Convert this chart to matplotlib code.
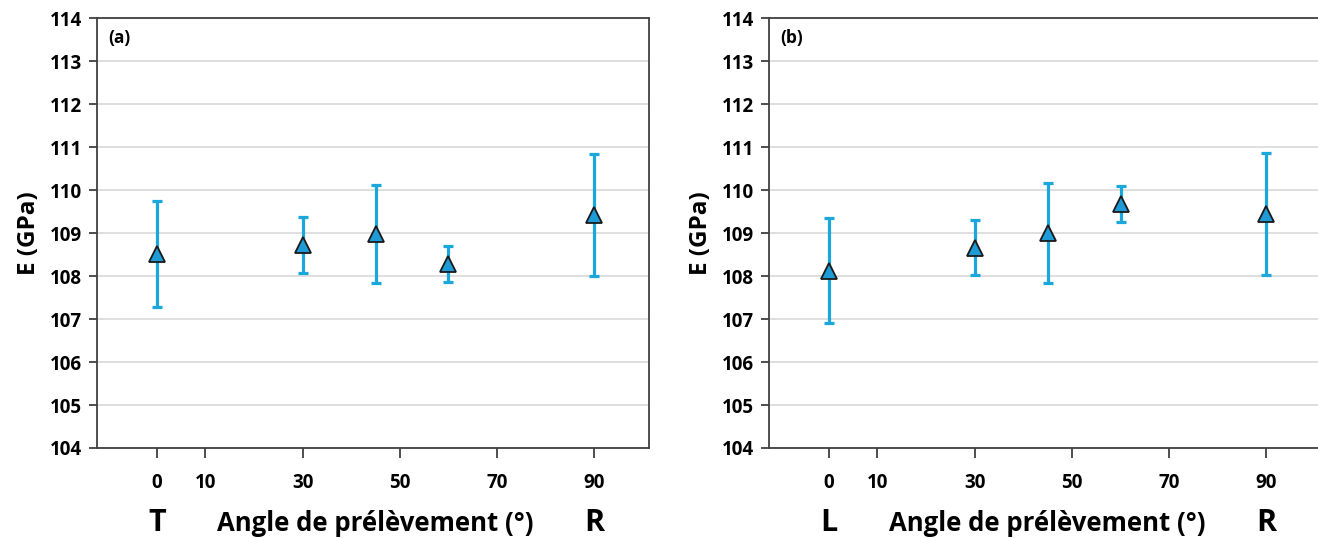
import numpy as np
import matplotlib
matplotlib.use("Agg")
import matplotlib.pyplot as plt
from matplotlib.transforms import blended_transform_factory

plt.rcParams.update({
    "font.family": ["Open Sans", "DejaVu Sans"],
    "font.weight": "bold",
})

# Data
angles = [0, 30, 45, 60, 90]
E_a = [108.52, 108.72, 108.97, 108.29, 109.43]
err_a = [1.23, 0.65, 1.14, 0.42, 1.42]
E_b = [108.12, 108.66, 109.00, 109.67, 109.45]
err_b = [1.22, 0.64, 1.16, 0.42, 1.42]

xticks = [0, 10, 30, 50, 70, 90]
yticks = list(range(104, 115))
panels = [("(a)", "T", E_a, err_a), ("(b)", "L", E_b, err_b)]

fig = plt.figure(figsize=(13.18, 5.38), dpi=100)
lefts = [0.0736, 0.5835]
width = 0.419

for (tag, left_lab, E, err), left in zip(panels, lefts):
    ax = fig.add_axes([left, 0.1673, width, 0.799])
    ax.errorbar(angles, E, yerr=err, fmt="none", ecolor="#1AA7DC",
                elinewidth=2.3, capsize=3.5, capthick=2.3, zorder=2)
    ax.plot(angles, E, linestyle="none", marker="^", markersize=12,
            markerfacecolor="#1E9AD6", markeredgecolor="#1a1a1a",
            markeredgewidth=1.3, zorder=3)

    ax.set_xlim(-12.3, 101.3)
    ax.set_ylim(104, 114)
    ax.set_xticks(xticks)
    ax.set_yticks(yticks)
    ax.grid(axis="y", color="#d9d9d9", linewidth=1.2)
    ax.set_axisbelow(True)
    for s in ax.spines.values():
        s.set_color("#404040")
        s.set_linewidth(1.3)
    ax.tick_params(axis="x", direction="out", length=7, width=1.3,
                   color="#404040", pad=11, labelsize=13.5)
    ax.tick_params(axis="y", direction="out", length=6, width=1.3,
                   color="#404040", pad=5, labelsize=13.5)
    for lab in ax.get_xticklabels() + ax.get_yticklabels():
        lab.set_fontweight("bold")

    ax.set_ylabel("E (GPa)", fontsize=17.5, fontweight="bold", labelpad=6)
    ax.text(0.02, 0.975, tag, transform=ax.transAxes, ha="left", va="top",
            fontsize=12.5, fontweight="bold")

    tr = blended_transform_factory(ax.transData, ax.transAxes)
    ax.text(0, -0.175, left_lab, transform=tr, ha="center", va="center",
            fontsize=22, fontweight="bold")
    ax.text(90, -0.175, "R", transform=tr, ha="center", va="center",
            fontsize=22, fontweight="bold")
    ax.text(45, -0.175, "Angle de prélèvement (°)", transform=tr,
            ha="center", va="center", fontsize=18.5, fontweight="bold")

fig.savefig("out.png", dpi=100)
